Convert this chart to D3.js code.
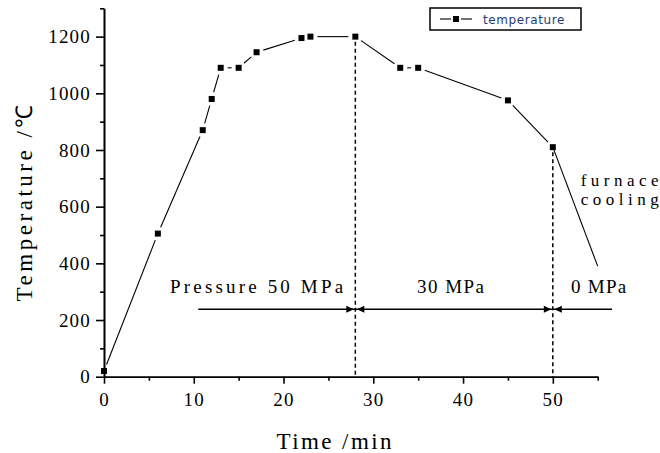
<!doctype html>
<html lang="en">
<head>
<meta charset="utf-8">
<title>Temperature / pressure schedule</title>
<style type="text/css">
body { margin: 0; background: #fff; }
svg { display: block; }
.axis path, .axis line { stroke: #000; stroke-width: 1.6; }
.axis text { font: 19px "Liberation Serif", serif; fill: #000; letter-spacing: 1.2px; }
.lbl { font: 19px "Liberation Serif", serif; fill: #000; }
.note { font: 17px "Liberation Serif", serif; fill: #000; }
.title { font: 23px "Liberation Serif", serif; fill: #000; }
</style>
</head>
<body>
<div id="root"></div>
<script src="https://d3js.org/d3.v7.min.js"></script>
<script>

// measured points (time in min, temperature in C)
var time = [0, 6, 11, 12, 13, 15, 17, 22, 23, 28, 33, 35, 45, 50];
var temp = [20, 505, 870, 980, 1090, 1090, 1145, 1195, 1200, 1200, 1090, 1090, 975, 810];

// furnace cooling tail (no marker at the end)
var coolTime = [50, 55];
var coolTemp = [810, 390];

// pressure stages
var stageBreaks = [28, 50];
var stageLine = [10.5, 56.6];
var stageLevel = 238;
var stageLabels = ["Pressure 50 MPa", "30 MPa", "0 MPa"];
var stageLabelX = [17, 38.6, 55.1];
var stageLabelW = [173, 67, 55];

var xMajor = [0, 10, 20, 30, 40, 50];
var xMinor = [5, 15, 25, 35, 45, 55];
var yMajor = [0, 200, 400, 600, 800, 1000, 1200];
var yMinor = [100, 300, 500, 700, 900, 1100, 1300];

var width = 660, height = 453;

var x = d3.scaleLinear().domain([0, 55]).range([104, 597.7]);
var y = d3.scaleLinear().domain([0, 1300]).range([376.7, 8.3]);

var svg = d3.select("#root").append("svg")
    .attr("width", width)
    .attr("height", height);

// axes
svg.append("g").attr("class", "axis")
    .attr("transform", "translate(0," + y(0) + ")")
    .call(d3.axisBottom(x).tickValues(xMinor).tickSize(4).tickSizeOuter(0).tickFormat(""));
svg.append("g").attr("class", "axis")
    .attr("transform", "translate(0," + y(0) + ")")
    .call(d3.axisBottom(x).tickValues(xMajor).tickSize(7).tickSizeOuter(0).tickPadding(9).tickFormat(d3.format("d")));

svg.append("g").attr("class", "axis")
    .attr("transform", "translate(" + x(0) + ",0)")
    .call(d3.axisLeft(y).tickValues(yMinor).tickSize(4).tickSizeOuter(0).tickFormat(""));
svg.append("g").attr("class", "axis")
    .attr("transform", "translate(" + x(0) + ",0)")
    .call(d3.axisLeft(y).tickValues(yMajor).tickSize(8).tickSizeOuter(0).tickPadding(5).tickFormat(d3.format("d")));

// axis titles
svg.append("text").attr("class", "title")
    .attr("x", 334).attr("y", 449)
    .attr("text-anchor", "middle")
    .attr("textLength", 115).attr("lengthAdjust", "spacing")
    .text("Time /min");
svg.append("text").attr("class", "title")
    .attr("transform", "translate(32,203) rotate(-90)")
    .attr("text-anchor", "middle")
    .attr("textLength", 197).attr("lengthAdjust", "spacing")
    .text("Temperature /\u2103");

// dotted drop lines at the stage changes
stageBreaks.forEach(function(t) {
  var v = temp[time.indexOf(t)];
  svg.append("line")
    .attr("x1", x(t)).attr("x2", x(t))
    .attr("y1", y(v) + 5).attr("y2", y(0))
    .attr("stroke", "#000").attr("stroke-width", 1.5)
    .attr("stroke-dasharray", "4,3");
});

// temperature line, drawn Origin style with gaps round the markers
var pts = time.map(function(t, i) { return [x(t), y(temp[i])]; });
var gap = 7;
for (var i = 0; i < pts.length - 1; i++) {
  var a = pts[i], b = pts[i + 1];
  var dx = b[0] - a[0], dy = b[1] - a[1];
  var len = Math.sqrt(dx * dx + dy * dy);
  if (len <= 2 * gap) continue;
  var ux = dx / len, uy = dy / len;
  svg.append("line")
    .attr("x1", a[0] + ux * gap).attr("y1", a[1] + uy * gap)
    .attr("x2", b[0] - ux * gap).attr("y2", b[1] - uy * gap)
    .attr("stroke", "#000").attr("stroke-width", 1.1);
}

svg.append("path")
  .datum(coolTime.map(function(t, i) { return [x(t), y(coolTemp[i])]; }))
  .attr("d", d3.line())
  .attr("fill", "none").attr("stroke", "#000").attr("stroke-width", 1.1);

svg.selectAll(".marker")
  .data(pts)
  .enter().append("rect")
  .attr("class", "marker")
  .attr("x", function(d) { return d[0] - 3; })
  .attr("y", function(d) { return d[1] - 3; })
  .attr("width", 6).attr("height", 6)
  .attr("fill", "#000");

// pressure stage line with arrowheads
var sy = y(stageLevel);
svg.append("line")
  .attr("x1", x(stageLine[0])).attr("x2", x(stageLine[1]))
  .attr("y1", sy).attr("y2", sy)
  .attr("stroke", "#000").attr("stroke-width", 1.5);

stageBreaks.forEach(function(t) {
  var cx = x(t);
  svg.append("path")
    .attr("d", "M" + (cx - 1.5) + "," + sy + "L" + (cx - 9) + "," + (sy - 3.5) + "L" + (cx - 9) + "," + (sy + 3.5) + "Z")
    .attr("fill", "#000");
  svg.append("path")
    .attr("d", "M" + (cx + 1.5) + "," + sy + "L" + (cx + 9) + "," + (sy - 3.5) + "L" + (cx + 9) + "," + (sy + 3.5) + "Z")
    .attr("fill", "#000");
});

svg.selectAll(".stage")
  .data(stageLabels)
  .enter().append("text")
  .attr("class", "lbl")
  .attr("x", function(d, i) { return x(stageLabelX[i]); })
  .attr("y", y(295))
  .attr("text-anchor", "middle")
  .attr("textLength", function(d, i) { return stageLabelW[i]; })
  .attr("lengthAdjust", "spacing")
  .text(function(d) { return d; });

// two-line note next to the cooling branch
var note = svg.append("text").attr("class", "note");
note.append("tspan")
  .attr("x", x(53.1)).attr("y", 185.5)
  .attr("textLength", 78).attr("lengthAdjust", "spacing")
  .text("furnace");
note.append("tspan")
  .attr("x", x(53.1)).attr("y", 204.5)
  .attr("textLength", 78).attr("lengthAdjust", "spacing")
  .text("cooling");

// legend
var lg = svg.append("g").attr("transform", "translate(430,8)");
lg.append("rect")
  .attr("width", 151).attr("height", 22)
  .attr("fill", "#fff").attr("stroke", "#000").attr("stroke-width", 1.5);
lg.append("line").attr("x1", 10).attr("x2", 21).attr("y1", 11).attr("y2", 11)
  .attr("stroke", "#000").attr("stroke-width", 1.1);
lg.append("line").attr("x1", 31).attr("x2", 42).attr("y1", 11).attr("y2", 11)
  .attr("stroke", "#000").attr("stroke-width", 1.1);
lg.append("rect").attr("x", 23).attr("y", 8).attr("width", 6).attr("height", 6).attr("fill", "#000");
lg.append("text")
  .attr("x", 53).attr("y", 16)
  .attr("fill", "#1f3b73")
  .style("font", "12px 'DejaVu Sans', sans-serif")
  .style("letter-spacing", "0.6px")
  .text("temperature");

</script>
</body>
</html>
